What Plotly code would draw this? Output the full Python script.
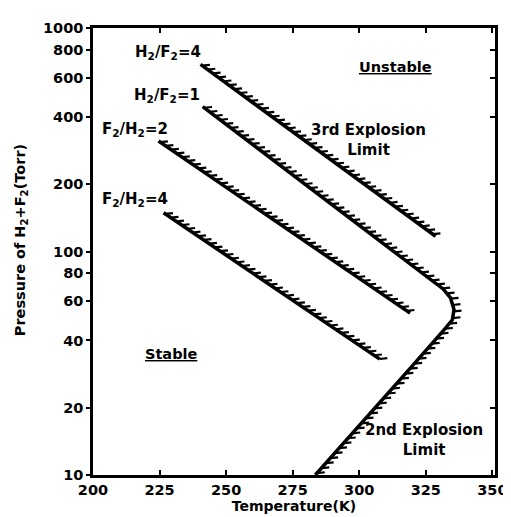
import numpy as np
import plotly.graph_objects as go

# ---- data ----
h2f2_4_T = [240.4, 328.7]
h2f2_4_P = [687, 117]

h2f2_1_T = [241.2, 331.5, 334.3, 335.6, 335.0, 332.5, 320.2, 283.5]
h2f2_1_P = [445, 68, 62, 55, 49.5, 45.5, 31, 10]

f2h2_2_T = [224.6, 319.1]
f2h2_2_P = [312, 53]

f2h2_4_T = [226.5, 307.7]
f2h2_4_P = [149, 33]

x_ticks = [200, 225, 250, 275, 300, 325, 350]
y_ticks = [10, 20, 40, 60, 80, 100, 200, 400, 600, 800, 1000]

# ---- layout geometry ----
W, H = 511, 517
ML, MR, MT, MB = 85, 13, 15, 47
PW, PH = W - ML - MR, H - MT - MB
XR = [200, 351]
YR = [1, 3]
sx = PW / (XR[1] - XR[0])
sy = PH / (YR[1] - YR[0])


def hatch(T, P, spacing=6.8, dx=8.0, dy=-0.8, s0=2.0):
    T = np.asarray(T, float)
    L = np.log10(np.asarray(P, float))
    px = (T - XR[0]) * sx
    py = (YR[1] - L) * sy
    seg = np.hypot(np.diff(px), np.diff(py))
    cum = np.concatenate([[0], np.cumsum(seg)])
    s = np.arange(s0, cum[-1], spacing)
    hx = np.interp(s, cum, px)
    hy = np.interp(s, cum, py)
    xs, ys = [], []
    for a, b in zip(hx, hy):
        xs += [XR[0] + a / sx, XR[0] + (a + dx) / sx, None]
        ys += [10 ** (YR[1] - b / sy), 10 ** (YR[1] - (b + dy) / sy), None]
    return xs, ys


fig = go.Figure()
for T, P in [(h2f2_4_T, h2f2_4_P), (h2f2_1_T, h2f2_1_P),
             (f2h2_2_T, f2h2_2_P), (f2h2_4_T, f2h2_4_P)]:
    fig.add_trace(go.Scatter(x=T, y=P, mode="lines",
                             line=dict(color="black", width=3.5),
                             showlegend=False, hoverinfo="skip"))
    hx, hy = hatch(T, P)
    fig.add_trace(go.Scatter(x=hx, y=hy, mode="lines",
                             line=dict(color="black", width=2.2),
                             showlegend=False, hoverinfo="skip"))

# right-side axis with inward ticks
fig.add_trace(go.Scatter(x=[None], y=[None], yaxis="y2", showlegend=False))

ann = [
    ("H<sub>2</sub>/F<sub>2</sub>=4", 228.0, 2.89, 15),
    ("H<sub>2</sub>/F<sub>2</sub>=1", 227.8, 2.70, 15),
    ("F<sub>2</sub>/H<sub>2</sub>=2", 215.7, 2.547, 15),
    ("F<sub>2</sub>/H<sub>2</sub>=4", 215.9, 2.231, 15),
    ("<u>Unstable</u>", 313.7, 2.824, 14.5),
    ("3rd Explosion<br>Limit", 303.5, 2.50, 15),
    ("<u>Stable</u>", 229.3, 1.541, 14.5),
    ("2nd Explosion<br>Limit", 324.3, 1.158, 15),
]
for text, x, y, fs in ann:
    fig.add_annotation(text=text, x=x, y=y, xref="x", yref="y",
                       showarrow=False, font=dict(size=fs))

# y axis title placed as rotated text
fig.add_annotation(text="Pressure of H<sub>2</sub>+F<sub>2</sub>(Torr)",
                   xref="paper", yref="paper",
                   x=(11 - ML) / PW, y=(470 - 231) / PH,
                   xanchor="center", yanchor="middle", textangle=-90,
                   showarrow=False, font=dict(size=14.5))

fig.update_layout(
    width=W, height=H,
    margin=dict(l=ML, r=MR, t=MT, b=MB),
    paper_bgcolor="white", plot_bgcolor="white",
    font=dict(family="DejaVu Sans", size=13, color="black", weight="bold"),
    xaxis=dict(range=XR, tickvals=x_ticks, ticktext=[str(v) for v in x_ticks],
               ticks="inside", ticklen=5, tickwidth=1.5, tickcolor="black",
               showline=True, linecolor="black", linewidth=2.5, mirror="ticks",
               showgrid=False, zeroline=False,
               tickfont=dict(size=14.5),
               title=dict(text="Temperature(K)", font=dict(size=14), standoff=5)),
    yaxis=dict(type="log", range=YR, tickvals=y_ticks,
               ticktext=[str(v) for v in y_ticks],
               ticks="outside", ticklen=4, tickwidth=1.5, tickcolor="black",
               showline=True, linecolor="black", linewidth=2.5,
               showgrid=False, zeroline=False,
               tickfont=dict(size=14.5)),
    yaxis2=dict(type="log", range=YR, overlaying="y", side="right",
                tickvals=y_ticks, showticklabels=False,
                ticks="inside", ticklen=5, tickwidth=1.5, tickcolor="black",
                showline=True, linecolor="black", linewidth=2.5,
                showgrid=False, zeroline=False),
)

fig.write_html("out.html")
